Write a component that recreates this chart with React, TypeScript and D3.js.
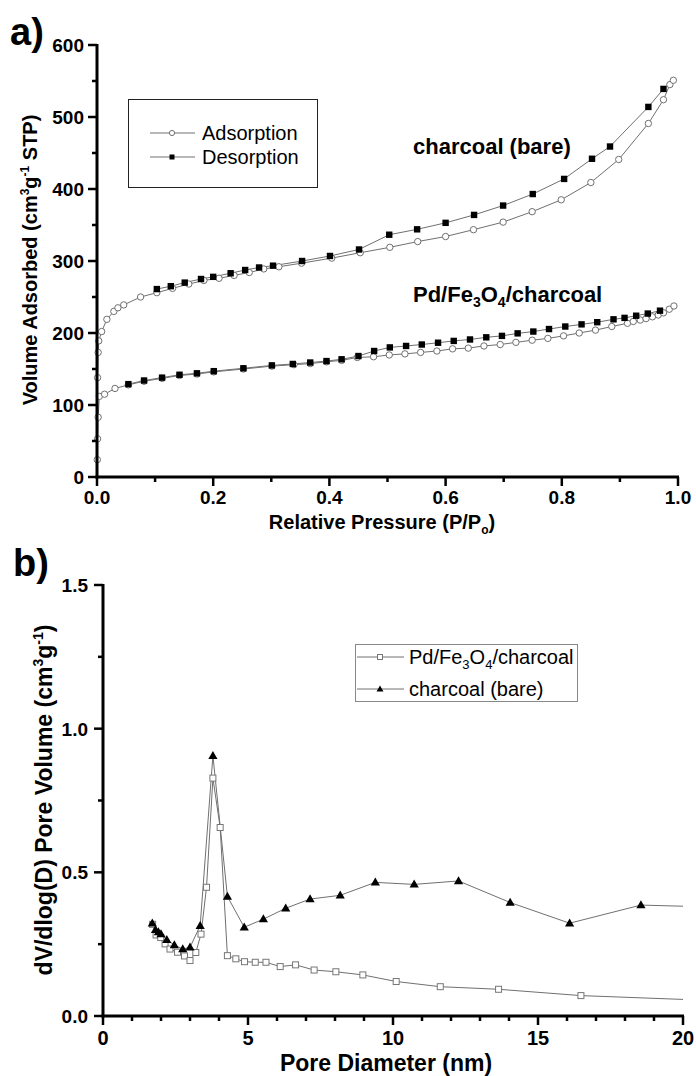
import React from "react";
import * as d3 from "d3";

// ---------- Panel a) data ----------
const charcoalAdsP = [0.001, 0.002, 0.003, 0.008, 0.017, 0.029, 0.036, 0.046, 0.075, 0.103, 0.13, 0.158, 0.184, 0.21, 0.236, 0.262, 0.287, 0.313, 0.352, 0.404, 0.453, 0.504, 0.552, 0.6, 0.648, 0.699, 0.749, 0.799, 0.85, 0.898, 0.949, 0.975, 0.986, 0.992];
const charcoalAdsV = [138, 173, 189, 202, 219, 230, 235, 239, 250, 256, 262, 268, 273, 276, 280, 284, 289, 292, 297, 304, 311.5, 319, 327, 334, 343.5, 354, 368.5, 385, 409, 441, 491, 524, 545, 551];
const charcoalDesP = [0.103, 0.127, 0.151, 0.179, 0.2, 0.23, 0.255, 0.279, 0.303, 0.353, 0.401, 0.451, 0.503, 0.551, 0.6, 0.649, 0.699, 0.75, 0.804, 0.852, 0.883, 0.949, 0.975];
const charcoalDesV = [261, 265, 270, 275, 278, 283, 287.5, 291, 293.5, 300, 307, 316, 336.5, 344, 353, 364, 377, 393, 414, 442, 459, 514, 539];
const pdAdsP = [0.0005, 0.001, 0.002, 0.004, 0.013, 0.031, 0.054, 0.081, 0.112, 0.142, 0.172, 0.201, 0.252, 0.301, 0.339, 0.367, 0.395, 0.421, 0.448, 0.476, 0.503, 0.53, 0.557, 0.585, 0.612, 0.639, 0.666, 0.694, 0.721, 0.749, 0.776, 0.803, 0.83, 0.858, 0.886, 0.913, 0.923, 0.935, 0.945, 0.956, 0.966, 0.975, 0.985, 0.993];
const pdAdsV = [24, 53, 83, 112, 115, 123, 128, 133, 137, 141, 143, 146, 150, 154, 156, 157.5, 160, 162, 166, 167, 169.5, 171, 173, 175, 178, 179, 182, 184, 187, 190, 192.5, 196, 200, 204, 209, 213.5, 216, 218, 220, 222.5, 225, 228, 233, 237.5];
const pdDesP = [0.054, 0.081, 0.112, 0.142, 0.172, 0.201, 0.252, 0.301, 0.337, 0.367, 0.395, 0.421, 0.45, 0.477, 0.504, 0.532, 0.559, 0.587, 0.614, 0.642, 0.67, 0.697, 0.724, 0.751, 0.778, 0.806, 0.834, 0.861, 0.889, 0.908, 0.928, 0.948, 0.969];
const pdDesV = [129, 134, 138, 142, 144, 147, 151, 155, 157, 159, 161, 163.5, 168, 175, 180, 182, 184, 186.5, 189, 191, 194, 196, 199.5, 202, 205.5, 209, 212, 215, 219, 221, 224, 227, 231];

const aXMajor = [0, 0.2, 0.4, 0.6, 0.8, 1.0];
const aXMinor = [0.1, 0.3, 0.5, 0.7, 0.9];
const aYMajor = [0, 100, 200, 300, 400, 500, 600];
const aYMinor = [50, 150, 250, 350, 450, 550];

// ---------- Panel b) data ----------
const pdPoreD = [1.71, 1.83, 1.99, 2.14, 2.31, 2.57, 2.81, 3.0, 3.2, 3.38, 3.57, 3.79, 4.04, 4.29, 4.58, 4.88, 5.25, 5.62, 6.11, 6.64, 7.28, 8.03, 8.96, 10.11, 11.63, 13.64, 16.48, 21.5];
const pdPoreV = [0.319, 0.282, 0.273, 0.251, 0.233, 0.222, 0.209, 0.193, 0.221, 0.285, 0.448, 0.828, 0.656, 0.21, 0.199, 0.189, 0.187, 0.187, 0.172, 0.178, 0.16, 0.154, 0.143, 0.12, 0.102, 0.093, 0.071, 0.052];
const charPoreD = [1.7, 1.81, 1.91, 2.0, 2.2, 2.46, 2.75, 3.0, 3.35, 3.79, 4.29, 4.87, 5.53, 6.3, 7.14, 8.18, 9.39, 10.73, 12.26, 14.04, 16.09, 18.55, 21.5];
const charPoreV = [0.323, 0.3, 0.292, 0.285, 0.265, 0.247, 0.233, 0.239, 0.314, 0.906, 0.416, 0.309, 0.337, 0.375, 0.407, 0.42, 0.465, 0.458, 0.47, 0.395, 0.323, 0.386, 0.378];

const bXMajor = [0, 5, 10, 15, 20];
const bXMinor = [1, 2, 3, 4, 6, 7, 8, 9, 11, 12, 13, 14, 16, 17, 18, 19];
const bYMajor = [0, 0.5, 1.0, 1.5];
const bYMinor = [0.25, 0.75, 1.25];

const FONT = "Arial, 'Liberation Sans', Helvetica, sans-serif";
const LINE = "#707070";

const zip = (a: number[], b: number[]) => a.map((v, i) => [v, b[i]] as [number, number]);

export default function App() {
  // scales panel a
  const ax = d3.scaleLinear().domain([0, 1]).range([97, 678]);
  const ay = d3.scaleLinear().domain([0, 600]).range([477, 45]);
  // scales panel b
  const bx = d3.scaleLinear().domain([0, 20]).range([103, 683]);
  const by = d3.scaleLinear().domain([0, 1.5]).range([1016, 585]);

  const aLine = d3.line<[number, number]>().x((d) => ax(d[0])).y((d) => ay(d[1]));
  const bLine = d3.line<[number, number]>().x((d) => bx(d[0])).y((d) => by(d[1]));
  const f1 = d3.format(".1f");

  const chAds = zip(charcoalAdsP, charcoalAdsV);
  const chDes = zip(charcoalDesP, charcoalDesV);
  const pdAds = zip(pdAdsP, pdAdsV);
  const pdDes = zip(pdDesP, pdDesV);
  const pdPore = zip(pdPoreD, pdPoreV);
  const chPore = zip(charPoreD, charPoreV);

  const circle = (x: number, y: number, k: string) => (
    <circle key={k} cx={x} cy={y} r={3.2} fill="#fff" stroke="#707070" strokeWidth={1} />
  );
  const square = (x: number, y: number, k: string) => (
    <rect key={k} x={x - 3.2} y={y - 3.2} width={6.4} height={6.4} fill="#000" />
  );
  const openSquare = (x: number, y: number, k: string) => (
    <rect key={k} x={x - 3} y={y - 3} width={6} height={6} fill="#fff" stroke="#777" strokeWidth={1} />
  );
  const tri = (x: number, y: number, k: string) => (
    <path key={k} d={`M${x},${y - 4.8}L${x + 4.6},${y + 3.2}L${x - 4.6},${y + 3.2}Z`} fill="#000" />
  );

  return (
    <svg
      width={696}
      height={1076}
      style={{ position: "absolute", left: 0, top: 0, background: "#fff" }}
      fontFamily={FONT}
    >
      <rect x={0} y={0} width={696} height={1076} fill="#fff" />
      <defs>
        <clipPath id="clipB">
          <rect x={103} y={580} width={580} height={440} />
        </clipPath>
      </defs>

      {/* ================= Panel a ================= */}
      <text x={10} y={45} fontSize={38} fontWeight="bold">a)</text>

      {/* series lines */}
      <path d={aLine(chAds) || ""} fill="none" stroke={LINE} strokeWidth={1} />
      <path d={aLine(chDes) || ""} fill="none" stroke={LINE} strokeWidth={1} />
      <path d={aLine(pdAds) || ""} fill="none" stroke={LINE} strokeWidth={1} />
      <path d={aLine(pdDes) || ""} fill="none" stroke={LINE} strokeWidth={1} />
      {chAds.map((d, i) => circle(ax(d[0]), ay(d[1]), "ca" + i))}
      {pdAds.map((d, i) => circle(ax(d[0]), ay(d[1]), "pa" + i))}
      {chDes.map((d, i) => square(ax(d[0]), ay(d[1]), "cd" + i))}
      {pdDes.map((d, i) => square(ax(d[0]), ay(d[1]), "pd" + i))}

      {/* axes a */}
      <line x1={ax(0)} x2={ax(0)} y1={ay(600) - 1} y2={ay(0) + 1.5} stroke="#000" strokeWidth={3} />
      <line x1={ax(0) - 1.5} x2={ax(1) + 1} y1={ay(0)} y2={ay(0)} stroke="#000" strokeWidth={3} />
      {aYMajor.map((v) => (
        <line key={"aym" + v} x1={ax(0) - 9} x2={ax(0)} y1={ay(v)} y2={ay(v)} stroke="#000" strokeWidth={2.5} />
      ))}
      {aYMinor.map((v) => (
        <line key={"ayn" + v} x1={ax(0) - 5} x2={ax(0)} y1={ay(v)} y2={ay(v)} stroke="#000" strokeWidth={2.5} />
      ))}
      {aXMajor.map((v) => (
        <line key={"axm" + v} x1={ax(v)} x2={ax(v)} y1={ay(0)} y2={ay(0) + 9} stroke="#000" strokeWidth={2.5} />
      ))}
      {aXMinor.map((v) => (
        <line key={"axn" + v} x1={ax(v)} x2={ax(v)} y1={ay(0)} y2={ay(0) + 5} stroke="#000" strokeWidth={2.5} />
      ))}
      {aYMajor.map((v) => (
        <text key={"ayl" + v} x={84} y={ay(v) + 7} fontSize={19} fontWeight="bold" textAnchor="end">{v}</text>
      ))}
      {aXMajor.map((v) => (
        <text key={"axl" + v} x={ax(v)} y={504} fontSize={19} fontWeight="bold" textAnchor="middle">{f1(v)}</text>
      ))}
      <text x={382} y={529} fontSize={20} fontWeight="bold" textAnchor="middle">
        Relative Pressure (P/P<tspan fontSize={12} dy={5}>o</tspan><tspan dy={-5}>)</tspan>
      </text>
      <text transform="translate(37,260) rotate(-90)" fontSize={20} fontWeight="bold" textAnchor="middle">
        Volume Adsorbed (cm<tspan fontSize={12} dy={-8}>3</tspan><tspan dy={8}>g</tspan>
        <tspan fontSize={12} dy={-8}>-1</tspan><tspan dy={8}> STP)</tspan>
      </text>

      {/* legend a */}
      <rect x={128.5} y={99.5} width={189} height={88} fill="#fff" stroke="#222" strokeWidth={1} />
      <line x1={150} x2={195} y1={133} y2={133} stroke={LINE} strokeWidth={1} />
      <circle cx={172} cy={133} r={2.6} fill="#fff" stroke="#707070" strokeWidth={1} />
      <text x={202} y={140} fontSize={20}>Adsorption</text>
      <line x1={150} x2={195} y1={157} y2={157} stroke={LINE} strokeWidth={1} />
      <rect x={169.5} y={154.5} width={5} height={5} fill="#000" />
      <text x={202} y={164} fontSize={20}>Desorption</text>

      {/* annotations a */}
      <text x={413} y={154} fontSize={22} fontWeight="bold">charcoal (bare)</text>
      <text x={413} y={302} fontSize={22} fontWeight="bold">
        Pd/Fe<tspan fontSize={14} dy={5}>3</tspan><tspan dy={-5}>O</tspan>
        <tspan fontSize={14} dy={5}>4</tspan><tspan dy={-5}>/charcoal</tspan>
      </text>

      {/* ================= Panel b ================= */}
      <text x={13} y={576} fontSize={38} fontWeight="bold">b)</text>

      <g clipPath="url(#clipB)">
        <path d={bLine(pdPore) || ""} fill="none" stroke={LINE} strokeWidth={1} />
        <path d={bLine(chPore) || ""} fill="none" stroke={LINE} strokeWidth={1} />
        {pdPore.map((d, i) => openSquare(bx(d[0]), by(d[1]), "bp" + i))}
        {chPore.map((d, i) => tri(bx(d[0]), by(d[1]), "bc" + i))}
      </g>

      {/* axes b */}
      <line x1={bx(0)} x2={bx(0)} y1={by(1.5) - 1} y2={by(0) + 1.5} stroke="#000" strokeWidth={3} />
      <line x1={bx(0) - 1.5} x2={bx(20) + 1} y1={by(0)} y2={by(0)} stroke="#000" strokeWidth={3} />
      {bYMajor.map((v) => (
        <line key={"bym" + v} x1={bx(0) - 9} x2={bx(0)} y1={by(v)} y2={by(v)} stroke="#000" strokeWidth={2.5} />
      ))}
      {bYMinor.map((v) => (
        <line key={"byn" + v} x1={bx(0) - 5} x2={bx(0)} y1={by(v)} y2={by(v)} stroke="#000" strokeWidth={2.5} />
      ))}
      {bXMajor.map((v) => (
        <line key={"bxm" + v} x1={bx(v)} x2={bx(v)} y1={by(0)} y2={by(0) + 9} stroke="#000" strokeWidth={2.5} />
      ))}
      {bXMinor.map((v) => (
        <line key={"bxn" + v} x1={bx(v)} x2={bx(v)} y1={by(0)} y2={by(0) + 5} stroke="#000" strokeWidth={2.5} />
      ))}
      {bYMajor.map((v) => (
        <text key={"byl" + v} x={88} y={by(v) + 7} fontSize={19} fontWeight="bold" textAnchor="end">{f1(v)}</text>
      ))}
      {bXMajor.map((v) => (
        <text key={"bxl" + v} x={bx(v)} y={1045} fontSize={20} fontWeight="bold" textAnchor="middle">{v}</text>
      ))}
      <text x={386} y={1071} fontSize={23} fontWeight="bold" textAnchor="middle">Pore Diameter (nm)</text>
      <text transform="translate(52,800) rotate(-90)" fontSize={23} fontWeight="bold" textAnchor="middle">
        dV/dlog(D) Pore Volume (cm<tspan fontSize={14} dy={-9}>3</tspan><tspan dy={9}>g</tspan>
        <tspan fontSize={14} dy={-9}>-1</tspan><tspan dy={9}>)</tspan>
      </text>

      {/* legend b */}
      <rect x={355.5} y={644.5} width={222} height={57} fill="#fff" stroke="#888" strokeWidth={1} />
      <line x1={357} x2={404} y1={657} y2={657} stroke={LINE} strokeWidth={1} />
      <rect x={377.5} y={654.5} width={5} height={5} fill="#fff" stroke="#777" strokeWidth={1} />
      <text x={409} y={664} fontSize={20}>
        Pd/Fe<tspan fontSize={13} dy={5}>3</tspan><tspan dy={-5}>O</tspan>
        <tspan fontSize={13} dy={5}>4</tspan><tspan dy={-5}>/charcoal</tspan>
      </text>
      <line x1={357} x2={404} y1={689} y2={689} stroke={LINE} strokeWidth={1} />
      <path d="M380,685.5L383.5,691.5L376.5,691.5Z" fill="#000" />
      <text x={409} y={696} fontSize={20}>charcoal (bare)</text>
    </svg>
  );
}
